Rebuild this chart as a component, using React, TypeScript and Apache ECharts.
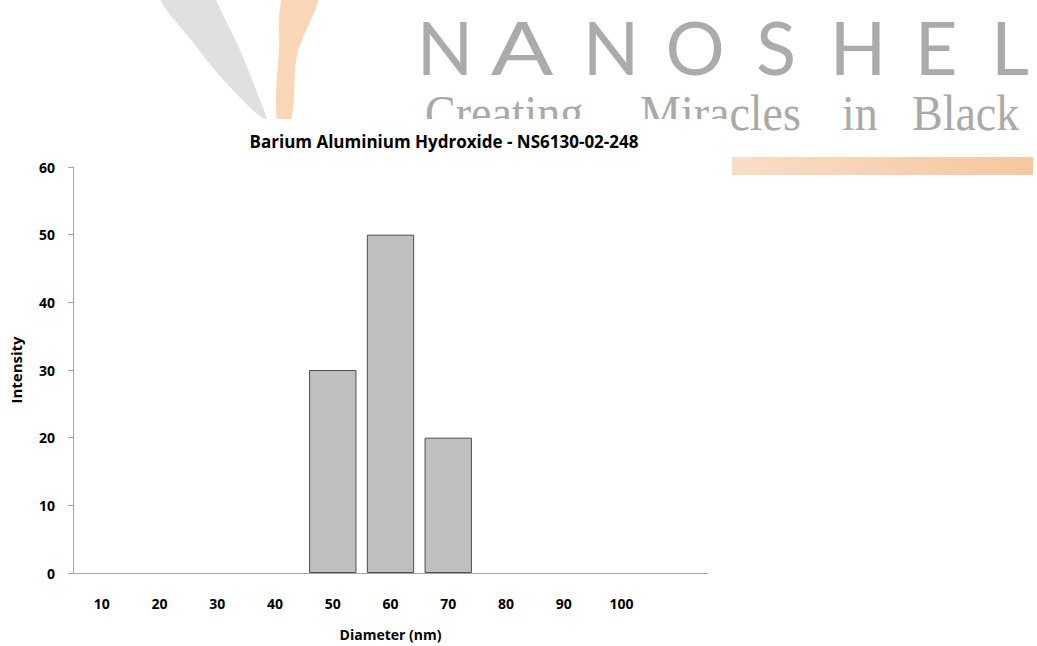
import React, { useEffect, useRef } from "react";
import * as echarts from "echarts";

const diameters = ["10", "20", "30", "40", "50", "60", "70", "80", "90", "100", ""];
const intensity = [0, 0, 0, 0, 30, 50, 20, 0, 0, 0, null];
const yTicks = { min: 0, max: 60, interval: 10 };
const titleText = "Barium Aluminium Hydroxide - NS6130-02-248";
const brandLetters = ["N", "A", "N", "O", "S", "H", "E", "L"];
const brandCenters = [445, 522, 611, 695, 776, 858, 936, 1010];
const taglineWords = ["Creating", "Miracles", "in", "Black"];
const taglineLefts = [425, 640, 842, 912];

export default function App() {
  const ref = useRef<HTMLDivElement>(null);
  useEffect(() => {
    const chart = echarts.init(ref.current!, null, { renderer: "svg" });
    const font = "'Open Sans', 'Noto Sans', sans-serif";
    const graphics: any[] = [];
    // watermark swooshes
    graphics.push({
      type: "polygon",
      z: -10,
      shape: {
        points: [[160, -5], [195, 45], [228, 85], [266, 120], [256, 90], [240, 50], [216, 0], [214, -5]],
        smooth: 0.3,
      },
      style: { fill: "#e0e0e0" },
    });
    graphics.push({
      type: "polygon",
      z: -10,
      shape: {
        points: [[284, -5], [279, 50], [277, 120], [291, 120], [297, 55], [318, -5]],
        smooth: 0.3,
      },
      style: { fill: "#f8d6b6" },
    });
    brandLetters.forEach((l, i) => {
      graphics.push({
        type: "text",
        z: -10,
        x: brandCenters[i],
        y: 46,
        scaleX: l === "A" ? 1.25 : 1,
        style: {
          text: l,
          fill: "#ababab",
          font: "400 74px Lato, 'DejaVu Sans', sans-serif",
          align: "center",
          verticalAlign: "middle",
        },
      });
    });
    taglineWords.forEach((w, i) => {
      graphics.push({
        type: "text",
        z: -10,
        x: taglineLefts[i],
        y: 113,
        scaleX: 0.92,
        style: {
          text: w,
          fill: "#a9a9a9",
          font: "50px 'Liberation Serif', 'DejaVu Serif', serif",
          align: "left",
          verticalAlign: "middle",
        },
      });
    });
    graphics.push({
      type: "rect",
      z: -10,
      shape: { x: 732, y: 157, width: 301, height: 18 },
      style: {
        fill: new echarts.graphic.LinearGradient(0, 0, 1, 0, [
          { offset: 0, color: "#f9ddc6" },
          { offset: 1, color: "#f4c7a0" },
        ]),
      },
    });
    // white chart background covering the watermark
    graphics.push({
      type: "rect",
      z: -5,
      shape: { x: 0, y: 119, width: 730, height: 527 },
      style: { fill: "#ffffff" },
    });

    chart.setOption({
      animation: false,
      backgroundColor: "#ffffff",
      title: {
        text: titleText,
        left: 439,
        top: 128,
        textAlign: "center",
        textStyle: { fontFamily: font, fontWeight: "bold", fontSize: 17, color: "#000" },
      },
      graphic: graphics,
      grid: { left: 73, right: 329, top: 167, bottom: 73, containLabel: false },
      xAxis: {
        type: "category",
        data: diameters,
        name: "Diameter (nm)",
        nameLocation: "middle",
        nameGap: 54,
        nameTextStyle: { fontFamily: font, fontWeight: "bold", fontSize: 14, color: "#000" },
        axisLine: { lineStyle: { color: "#a6a6a6", width: 1 } },
        axisTick: { show: false },
        axisLabel: { margin: 23, fontFamily: font, fontWeight: "bold", fontSize: 14, color: "#000" },
        splitLine: { show: false },
      },
      yAxis: {
        type: "value",
        min: yTicks.min,
        max: yTicks.max,
        interval: yTicks.interval,
        name: "Intensity",
        nameLocation: "middle",
        nameGap: 50,
        nameRotate: 90,
        nameTextStyle: { fontFamily: font, fontWeight: "bold", fontSize: 15, color: "#000" },
        axisLine: { show: true, lineStyle: { color: "#a6a6a6", width: 1 } },
        axisTick: { show: true, length: 5, lineStyle: { color: "#a6a6a6" } },
        axisLabel: { margin: 18, fontFamily: font, fontWeight: "bold", fontSize: 14, color: "#000" },
        splitLine: { show: false },
      },
      series: [
        {
          type: "bar",
          data: intensity.map((v) => ({
            value: v,
            itemStyle: { borderWidth: v ? 1 : 0 },
          })),
          barCategoryGap: "18%",
          itemStyle: { color: "#bfbfbf", borderColor: "#4d4d4d", borderWidth: 1 },
        },
      ],
    });
    return () => chart.dispose();
  }, []);
  return (
    <div
      ref={ref}
      style={{ position: "fixed", left: 0, top: 0, width: 1037, height: 646 }}
    />
  );
}
